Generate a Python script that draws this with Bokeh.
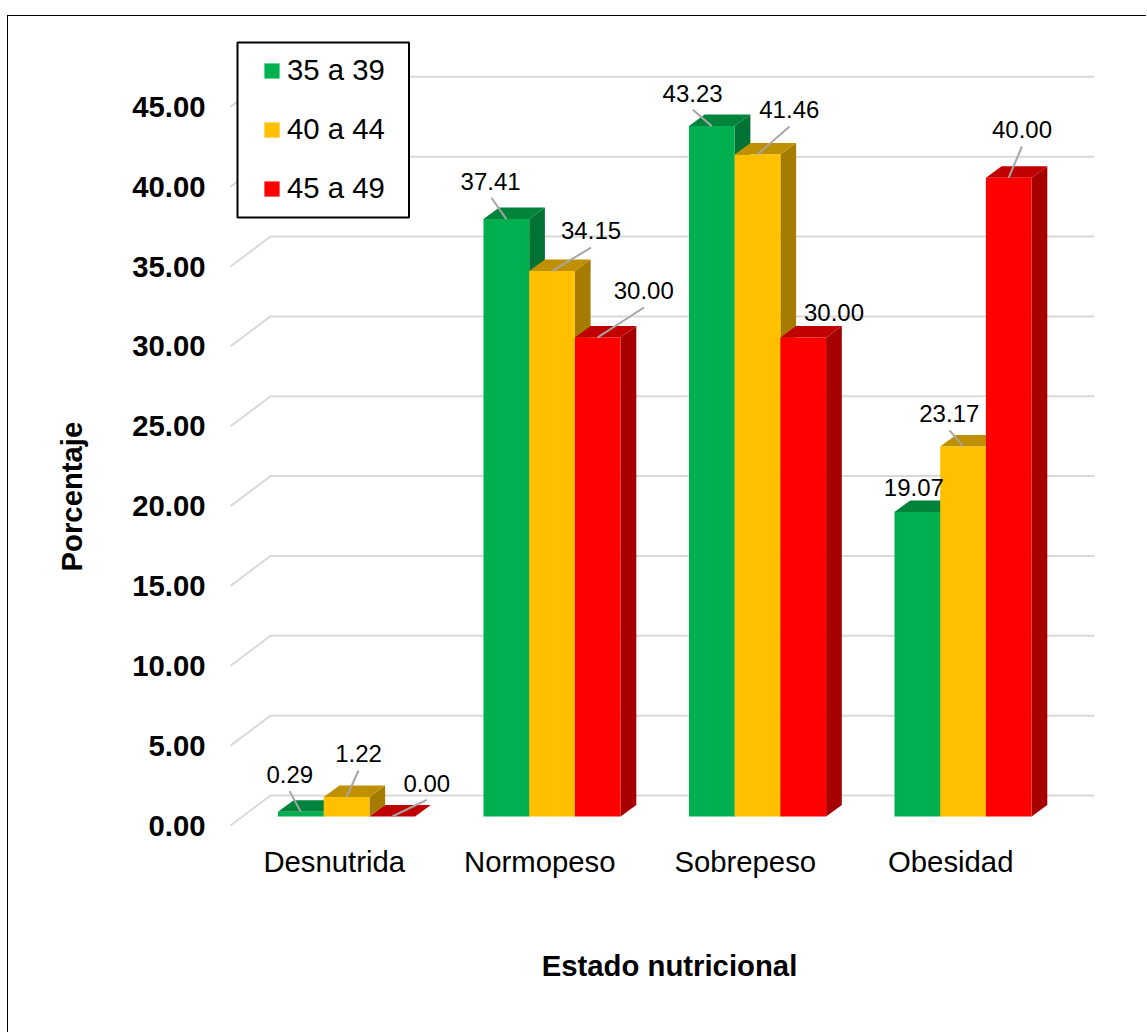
from bokeh.embed import file_html
from bokeh.resources import INLINE
from bokeh.plotting import figure
from bokeh.models import (BoxAnnotation, ColumnDataSource, FixedTicker, Legend, LegendItem,
                          PrintfTickFormatter, Range1d, Title)
from bokeh.core.properties import value

# ---------- data ----------
categories = ["Desnutrida", "Normopeso", "Sobrepeso", "Obesidad"]
series_names = ["35 a 39", "40 a 44", "45 a 49"]
values_35_39 = [0.29, 37.41, 43.23, 19.07]
values_40_44 = [1.22, 34.15, 41.46, 23.17]
values_45_49 = [0.00, 30.00, 30.00, 40.00]
y_ticks = [0, 5, 10, 15, 20, 25, 30, 35, 40, 45]
x_title = "Estado nutricional"
y_title = "Porcentaje"

# ---------- styles ----------
front = ["#00B050", "#FFC000", "#FF0000"]
top_c = ["#00843C", "#BF9000", "#C00000"]
side_c = ["#007234", "#A67C00", "#A60000"]
FONT = "Liberation Sans"

# ---------- layout (page pixels) ----------
FIG_X, FIG_Y = 8, 16          # figure content origin on the page
FIG_W, FIG_H = 1139, 1017
L, R, T, B = 212, 1126, 30, 832
X0, UX = 231.0, 205.5         # category 0 on the front plane, px per category
Y0, UY = 825.0, 15.97         # value 0 on the front plane, px per unit
BAR_W, BAR_SHIFT = 45.7, 12.3
BAR_LIFT = 9.0                # bars stand this far above the front plane
DX, DY = 15.7, 11.5           # bar depth
WALL_DX, WALL_DY = 39.0, 30.0
WALL_LEFT, WALL_RIGHT = -1.0, 41.0

# label centre and leader end, px from the top-centre of each bar's front face
label_dx = [[-11, -15.75, -19.25, -3.5], [12, 39, 31.75, -13.75], [34.5, 46, 30.75, 13.25]]
label_dy = [[-37.4, -37.9, -32.3, -24.2], [-43.8, -40.9, -44.6, -32.7], [-33, -46.9, -24.6, -47.9]]
lead_dx = [[-11.25, -15, -19, 0], [12, 39, 32, -13.5], [34.5, 46.25, 0, 13.25]]
lead_dy = [[-20.7, -21.3, -16.3, 0], [-26.5, -23.6, -27.9, -16], [-16.7, -29.9, 0, -31.2]]

p = figure(
    width=FIG_W, height=FIG_H, output_backend="svg", toolbar_location=None,
    x_range=Range1d((L - X0) / UX, (R - X0) / UX),
    y_range=Range1d((Y0 - B) / UY, (Y0 - T) / UY),
    min_border_left=L - FIG_X, min_border_right=FIG_X + FIG_W - R,
    min_border_top=T - FIG_Y, min_border_bottom=FIG_Y + FIG_H - B,
    outline_line_color=None, background_fill_color="white", border_fill_color="white",
)
p.styles = {"margin-left": "7px", "margin-top": "15px",
            "border-left": "1px solid black", "border-top": "1px solid black"}
p.grid.visible = False


def px(dx):
    return dx / UX


def py(dy):
    return dy / UY


# back-wall grid
grid_xs, grid_ys = [], []
for v in y_ticks:
    grid_xs.append([px(WALL_LEFT), px(WALL_DX), len(categories) + px(WALL_RIGHT)])
    grid_ys.append([v, v + py(WALL_DY), v + py(WALL_DY)])
p.multi_line(grid_xs, grid_ys, line_color="#D9D9D9", line_width=2)

# bars, drawn from left to right so that nearer faces overlap
all_values = [values_35_39, values_40_44, values_45_49]
legend_items = []
for g in range(len(categories)):
    for s, vals in enumerate(all_values):
        v = vals[g]
        xl = g + 0.5 + px(BAR_SHIFT + (s - 1.5) * BAR_W)
        xr = xl + px(BAR_W)
        yb = py(BAR_LIFT)
        yt = v + yb
        p.patch([xr, xr + px(DX), xr + px(DX), xr],
                [yb, yb + py(DY), yt + py(DY), yt],
                fill_color=side_c[s], line_color=None)
        p.patch([xl, xr, xr + px(DX), xl + px(DX)],
                [yt, yt, yt + py(DY), yt + py(DY)],
                fill_color=top_c[s], line_color=None)
        r = p.quad(left=[xl], right=[xr], bottom=[yb], top=[yt],
                   fill_color=front[s], line_color=None)
        if g == 0:
            legend_items.append(LegendItem(label=series_names[s], renderers=[r]))

# leaders and data labels
lx0, ly0, lx1, ly1 = [], [], [], []
tx, ty, tt, tox, toy = [], [], [], [], []
for g in range(len(categories)):
    for s, vals in enumerate(all_values):
        cx = g + 0.5 + px(BAR_SHIFT + (s - 1) * BAR_W)
        top = vals[g] + py(BAR_LIFT)
        if lead_dx[s][g] or lead_dy[s][g]:
            lx0.append(cx)
            ly0.append(top)
            lx1.append(cx + px(lead_dx[s][g]))
            ly1.append(top - py(lead_dy[s][g]))
        tx.append(cx)
        ty.append(top)
        tt.append(f"{vals[g]:.2f}")
        tox.append(label_dx[s][g])
        toy.append(label_dy[s][g])
p.segment(lx0, ly0, lx1, ly1, line_color="#A6A6A6", line_width=2)
p.text(x="x", y="y", text="t", x_offset="ox", y_offset="oy",
       source=ColumnDataSource(dict(x=tx, y=ty, t=tt, ox=tox, oy=toy)),
       text_font=value(FONT), text_font_size="24px", text_color="#000000",
       text_align="center", text_baseline="middle")

# axes
xa = p.xaxis[0]
xa.ticker = FixedTicker(ticks=[i + 0.5 for i in range(len(categories))])
xa.major_label_overrides = {i + 0.5: c for i, c in enumerate(categories)}
xa.axis_line_color = None
xa.major_tick_line_color = None
xa.minor_tick_line_color = None
xa.major_label_standoff = 6
xa.major_label_text_font = FONT
xa.major_label_text_font_size = "29.3px"
xa.major_label_text_color = "#000000"
xa.axis_label = x_title
xa.axis_label_text_font = FONT
xa.axis_label_text_font_size = "29.3px"
xa.axis_label_text_font_style = "bold"
xa.axis_label_text_color = "#000000"
xa.axis_label_standoff = 68

ya = p.yaxis[0]
ya.ticker = FixedTicker(ticks=y_ticks)
ya.formatter = PrintfTickFormatter(format="%.2f")
ya.axis_line_color = None
ya.major_tick_line_color = None
ya.minor_tick_line_color = None
ya.major_label_standoff = 1
ya.major_label_text_font = FONT
ya.major_label_text_font_size = "29.3px"
ya.major_label_text_font_style = "bold"
ya.major_label_text_color = "#000000"

p.add_layout(Title(text=y_title, align="left", offset=B - 571, standoff=80, vertical_align="top",
                   text_font=FONT, text_font_size="29.3px", text_font_style="bold",
                   text_color="#000000"), "left")

# legend: frame first, entries on top
p.add_layout(BoxAnnotation(left=(237 - X0) / UX, right=(408.5 - X0) / UX,
                           bottom=(Y0 - 217) / UY, top=(Y0 - 42) / UY,
                           fill_color="white", fill_alpha=1.0,
                           line_color="#000000", line_alpha=1.0, line_width=2))
legend = Legend(
    items=legend_items, location=(262 - L, B - 205), orientation="vertical",
    border_line_color=None, background_fill_alpha=0.0, margin=0, padding=0, spacing=25,
    glyph_width=19, glyph_height=19, label_standoff=6,
    label_text_font=FONT, label_text_font_size="29.3px", label_text_color="#000000",
)
p.add_layout(legend)

open("out.html", "w").write(file_html(p, INLINE))
